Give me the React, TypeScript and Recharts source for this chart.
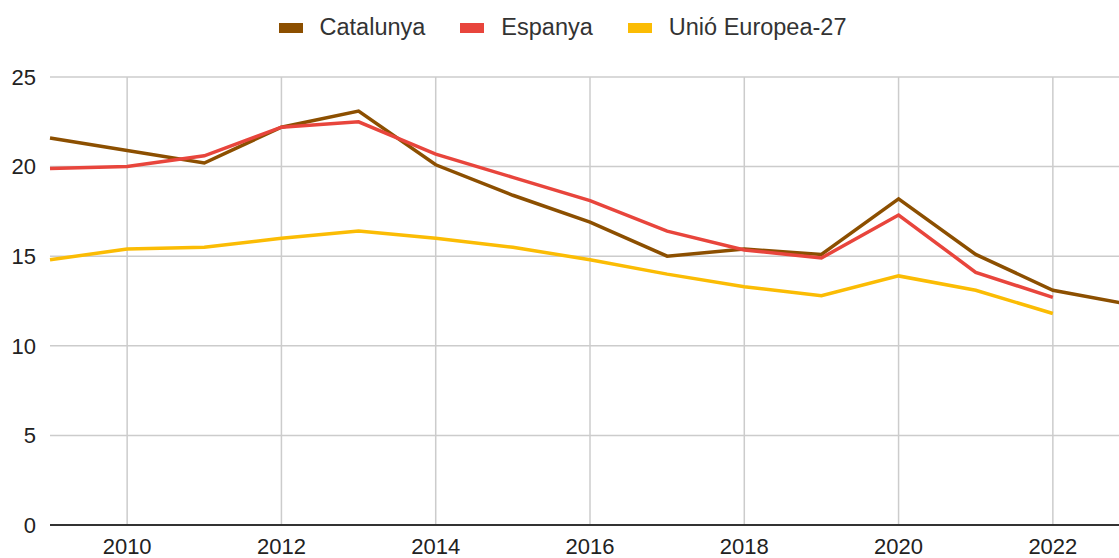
import { LineChart, Line, XAxis, YAxis, CartesianGrid } from "recharts";

const years = [2009, 2010, 2011, 2012, 2013, 2014, 2015, 2016, 2017, 2018, 2019, 2020, 2021, 2022, 2023];
const catalunya = [21.6, 20.9, 20.2, 22.2, 23.1, 20.1, 18.4, 16.9, 15.0, 15.4, 15.1, 18.2, 15.1, 13.1, 12.3];
const espanya = [19.9, 20.0, 20.6, 22.2, 22.5, 20.7, 19.4, 18.1, 16.4, 15.35, 14.9, 17.3, 14.1, 12.7, null];
const ue27 = [14.8, 15.4, 15.5, 16.0, 16.4, 16.0, 15.5, 14.8, 14.0, 13.3, 12.8, 13.9, 13.1, 11.8, null];
const xTicks = [2010, 2012, 2014, 2016, 2018, 2020, 2022];
const yTicks = [0, 5, 10, 15, 20, 25];

const series = [
  { key: "catalunya", name: "Catalunya", color: "#8c4f00" },
  { key: "espanya", name: "Espanya", color: "#e8453c" },
  { key: "ue27", name: "Unió Europea-27", color: "#fbbc04" },
];

const data = years.map((year, i) => ({
  year,
  catalunya: catalunya[i],
  espanya: espanya[i],
  ue27: ue27[i],
}));

const font = "'Liberation Sans', Arial, sans-serif";

function ChartLegend() {
  return (
    <div
      style={{
        position: "absolute",
        top: 14,
        left: 3,
        width: 1119,
        display: "flex",
        justifyContent: "center",
        fontFamily: font,
        fontSize: 23.5,
        color: "#333",
      }}
    >
      {series.map((s) => (
        <div key={s.key} style={{ display: "flex", alignItems: "center", margin: "0 17.5px" }}>
          <span style={{ width: 24, height: 10, background: s.color, marginRight: 17 }} />
          <span>{s.name}</span>
        </div>
      ))}
    </div>
  );
}

export default function App() {
  return (
    <div
      style={{
        position: "absolute",
        top: 0,
        left: 0,
        width: 1119,
        height: 558,
        overflow: "hidden",
        background: "#fff",
      }}
    >
      <ChartLegend />
      <LineChart
        width={1130}
        height={558}
        data={data}
        margin={{ top: 77, right: 0, bottom: 0, left: 0 }}
      >
        <CartesianGrid stroke="#cccccc" strokeWidth={1.5} syncWithTicks />
        <XAxis
          dataKey="year"
          type="number"
          domain={[2009, 2023]}
          ticks={xTicks}
          height={33}
          tickSize={0}
          tickMargin={13}
          axisLine={{ stroke: "#333", strokeWidth: 2 }}
          tick={{ fill: "#222", fontSize: 22, fontFamily: font }}
        />
        <YAxis
          domain={[0, 25]}
          ticks={yTicks}
          width={50}
          tickSize={0}
          tickMargin={14}
          axisLine={false}
          tick={{ fill: "#222", fontSize: 22, fontFamily: font }}
        />
        {series.map((s) => (
          <Line
            key={s.key}
            dataKey={s.key}
            name={s.name}
            stroke={s.color}
            strokeWidth={3.5}
            dot={false}
            type="linear"
            isAnimationActive={false}
          />
        ))}
      </LineChart>
    </div>
  );
}
